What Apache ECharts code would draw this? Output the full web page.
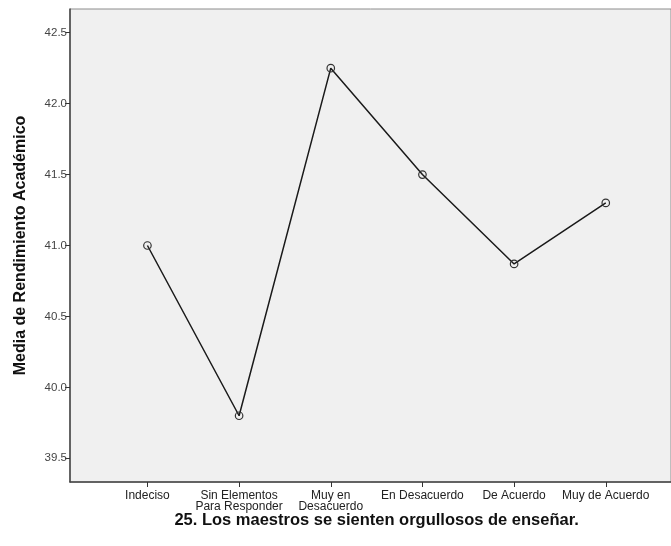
<!DOCTYPE html>
<html><head><meta charset="utf-8">
<script src="https://cdn.jsdelivr.net/npm/echarts@6/dist/echarts.min.js"></script>
<style>html,body{margin:0;padding:0;background:#fff}#c{width:671px;height:546px}</style>
</head><body><div id="c"></div>
<script>
const categories = ['Indeciso', 'Sin Elementos\nPara Responder', 'Muy en\nDesacuerdo', 'En Desacuerdo', 'De Acuerdo', 'Muy de Acuerdo'];
const values = [41.0, 39.80, 42.25, 41.50, 40.87, 41.30];
const yTicks = [39.5, 40.0, 40.5, 41.0, 41.5, 42.0, 42.5];
const yMin = 39.333, yMax = 42.667;
const yTitle = 'Media de Rendimiento Académico';
const xTitle = '25. Los maestros se sienten orgullosos de enseñar.';

const font = 'Liberation Sans, Arial, sans-serif';
const chart = echarts.init(document.getElementById('c'));
chart.setOption({
  animation: false,
  grid: [
    {left: 70, top: 9, right: 0, bottom: 64, show: true, backgroundColor: '#f0f0f0', borderColor: '#8c8c8c', borderWidth: 1},
    {left: 101.6, top: 9, right: 19.4, bottom: 64}
  ],
  xAxis: [
    {gridIndex: 0, type: 'value', min: 0, max: 1, axisLine: {show: true, onZero: false, lineStyle: {color: '#444', width: 1.5}}, axisTick: {show: false}, axisLabel: {show: false}, splitLine: {show: false}},
    {gridIndex: 1, type: 'category', data: categories, boundaryGap: true,
     axisLine: {show: false}, axisTick: {show: true, alignWithLabel: true, length: 5, lineStyle: {color: '#333'}},
     axisLabel: {interval: 0, color: '#222', fontFamily: font, fontSize: 12, lineHeight: 11, margin: 8},
     name: xTitle, nameLocation: 'middle', nameGap: 30, nameMoveOverlap: false,
     nameTextStyle: {fontFamily: font, fontWeight: 'bold', fontSize: 16.5, color: '#111'}}
  ],
  yAxis: [
    {gridIndex: 0, type: 'value', min: yMin, max: yMax,
     axisLine: {show: true, lineStyle: {color: '#444', width: 1.5}},
     axisTick: {show: true, length: 5, customValues: yTicks, lineStyle: {color: '#333'}},
     axisLabel: {customValues: yTicks, color: '#444', fontFamily: font, fontSize: 11.5, margin: 3, formatter: v => v.toFixed(1)},
     splitLine: {show: false},
     name: yTitle, nameLocation: 'middle', nameGap: 41, nameRotate: 90,
     nameTextStyle: {fontFamily: font, fontWeight: 'bold', fontSize: 16, color: '#111'}},
    {gridIndex: 1, type: 'value', min: yMin, max: yMax, show: false, splitLine: {show: false}}
  ],
  series: [{
    type: 'line', xAxisIndex: 1, yAxisIndex: 1, data: values,
    symbol: 'circle', symbolSize: 7.5, showAllSymbol: true,
    lineStyle: {color: '#1a1a1a', width: 1.5},
    itemStyle: {color: 'rgba(0,0,0,0)', borderColor: '#333', borderWidth: 1.2}
  }]
});
</script></body></html>
